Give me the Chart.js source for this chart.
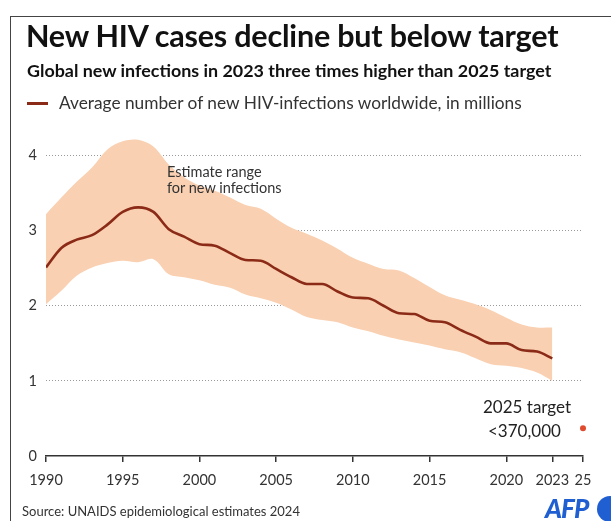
<!DOCTYPE html>
<html>
<head>
<meta charset="utf-8">
<script src="https://cdn.jsdelivr.net/npm/chart.js@4"></script>
<style>
  body { margin: 0; background: #fff; font-family: Lato, sans-serif; color: #222; }
  #wrap { position: relative; width: 611px; height: 521px; overflow: hidden; }
  #frame { position: absolute; left: 10px; top: 16px; width: 620px; height: 520px;
           border-left: 1.5px solid #444; border-top: 1.5px solid #444; }
  canvas { position: absolute; left: 0; top: 0; }
  .t { position: absolute; white-space: nowrap; }
  #title { left: 26px; top: 17px; font-size: 30.5px; font-weight: 700; color: #111; letter-spacing: -0.2px; }
  #sub { left: 27px; top: 59px; font-size: 17.9px; font-weight: 700; color: #111; }
  #leg { left: 27px; top: 92px; font-size: 17.3px; color: #333; }
  #leg span { display: inline-block; width: 21px; height: 2.5px; background: #8b2a17; vertical-align: middle; margin-right: 11px; position: relative; top: -1px; }
  #est { left: 167px; top: 164px; font-size: 14.5px; line-height: 16px; color: #333; }
  #tgt1 { left: 483px; top: 396px; font-size: 17px; color: #222; }
  #tgt2 { left: 488px; top: 420px; font-size: 17px; color: #222; }
  #src { left: 22px; top: 503px; font-size: 13px; color: #333; }
  #afp { left: 545px; top: 492px; font-size: 26px; font-weight: 900; font-style: italic; color: #1f5fd1; letter-spacing: -1px; }
  #dot { position: absolute; left: 597px; top: 496px; width: 26px; height: 26px; border-radius: 50%; background: #1f5fd1; }
</style>
</head>
<body>
<div id="wrap">
  <canvas id="chart" width="611" height="521"></canvas>
  <div id="frame"></div>
  <div class="t" id="title">New HIV cases decline but below target</div>
  <div class="t" id="sub">Global new infections in 2023 three times higher than 2025 target</div>
  <div class="t" id="leg"><span></span>Average number of new HIV-infections worldwide, in millions</div>
  <div class="t" id="est">Estimate range<br>for new infections</div>
  <div class="t" id="tgt1">2025 target</div>
  <div class="t" id="tgt2">&lt;370,000</div>
  <div class="t" id="src">Source: UNAIDS epidemiological estimates 2024</div>
  <div class="t" id="afp">AFP</div>
  <div id="dot"></div>
</div>
<script>
// Années et estimations (millions)
const years = [1990, 1991, 1992, 1993, 1994, 1995, 1996, 1997, 1998, 1999,
               2000, 2001, 2002, 2003, 2004, 2005, 2006, 2007, 2008, 2009,
               2010, 2011, 2012, 2013, 2014, 2015, 2016, 2017, 2018, 2019,
               2020, 2021, 2022, 2023];
const central = [2.51, 2.77, 2.88, 2.94, 3.08, 3.25, 3.31, 3.25, 3.02, 2.92,
                 2.82, 2.80, 2.70, 2.61, 2.60, 2.49, 2.38, 2.29, 2.29, 2.19,
                 2.11, 2.10, 2.00, 1.90, 1.89, 1.80, 1.78, 1.68, 1.59, 1.50,
                 1.50, 1.41, 1.39, 1.30];
const upper = [3.22, 3.44, 3.65, 3.84, 4.08, 4.19, 4.21, 4.12, 3.88, 3.71,
               3.60, 3.53, 3.44, 3.34, 3.29, 3.16, 3.04, 2.96, 2.87, 2.76,
               2.64, 2.56, 2.49, 2.47, 2.37, 2.25, 2.14, 2.08, 2.02, 1.94,
               1.84, 1.75, 1.71, 1.71];
const lower = [2.02, 2.20, 2.40, 2.51, 2.57, 2.60, 2.58, 2.62, 2.42, 2.38,
               2.34, 2.28, 2.24, 2.15, 2.10, 2.04, 1.95, 1.85, 1.81, 1.78,
               1.71, 1.66, 1.60, 1.55, 1.51, 1.47, 1.42, 1.38, 1.30, 1.22,
               1.20, 1.17, 1.11, 1.00];
const target = [{ x: 2025, y: 0.37 }];
const xTicks = [1990, 1995, 2000, 2005, 2010, 2015, 2020, 2023, 2025];
const yTicks = [0, 1, 2, 3, 4];

const pts = arr => years.map((y, i) => ({ x: y, y: arr[i] }));

new Chart(document.getElementById('chart').getContext('2d'), {
    type: 'line',
    data: {
        datasets: [
            { data: pts(upper), borderWidth: 0, pointRadius: 0, tension: 0.35,
              backgroundColor: '#f9d0b1', fill: '+1', order: 3 },
            { data: pts(lower), borderWidth: 0, pointRadius: 0, tension: 0.35,
              backgroundColor: '#f9d0b1', fill: false, order: 3 },
            { data: pts(central), borderColor: '#8b2a17', borderWidth: 2.6, pointRadius: 0,
              cubicInterpolationMode: 'monotone', fill: false, order: 1 },
            { type: 'scatter', data: target, pointRadius: 3, backgroundColor: '#e04a2e',
              borderWidth: 0, clip: false, order: 0 },
        ],
    },
    options: {
        responsive: false,
        animation: false,
        layout: { padding: { top: 133, right: 28, bottom: 25, left: 0 } },
        plugins: { legend: { display: false }, tooltip: { enabled: false } },
        scales: {
            x: {
                type: 'linear', min: 1990, max: 2025,
                afterBuildTicks: s => { s.ticks = xTicks.map(v => ({ value: v })); },
                afterFit: s => { s.height = 40; },
                border: { display: true, color: '#333', width: 1.5 },
                grid: { drawOnChartArea: false, drawTicks: true, tickLength: 6, color: '#333', lineWidth: 1.5 },
                ticks: { padding: 10, maxRotation: 0, autoSkip: false, color: '#333',
                         font: { family: 'Lato', size: 14.5 },
                         callback: v => (v === 2025 ? '25' : String(v)) },
            },
            y: {
                min: 0, max: 4.3,
                afterBuildTicks: s => { s.ticks = yTicks.map(v => ({ value: v })); },
                afterFit: s => { s.width = 46; },
                border: { display: false, dash: [1, 2] },
                grid: { drawTicks: false, lineWidth: 1,
                        color: c => (c.tick && c.tick.value === 0 ? 'rgba(0,0,0,0)' : '#9a9a9a') },
                ticks: { padding: 9, color: '#333', font: { family: 'Lato', size: 14.5 } },
            },
        },
    },
});
</script>
</body>
</html>
